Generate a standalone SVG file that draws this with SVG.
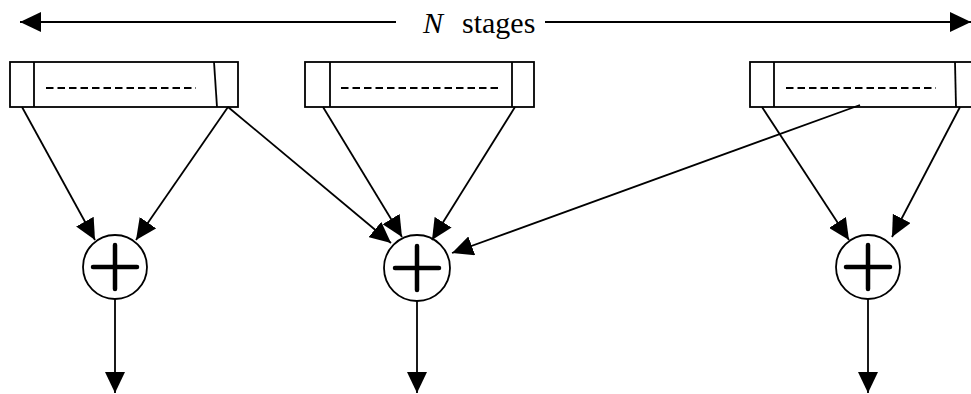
<svg xmlns="http://www.w3.org/2000/svg" width="971" height="394" viewBox="0 0 971 394">
<style>
.bx{fill:#fff;stroke:#000;stroke-width:1.8}
.ln{fill:none;stroke:#000;stroke-width:1.8}
.ds{fill:none;stroke:#000;stroke-width:2;stroke-dasharray:7.5 4}
.ar{fill:none;stroke:#000;stroke-width:1.8;marker-end:url(#ah)}
.pl{fill:none;stroke:#000;stroke-width:4.5;stroke-linecap:round}
text{font-family:"Liberation Serif","Times New Roman",serif;font-size:30px;fill:#000}
</style>
<defs>
<marker id="ah" markerUnits="userSpaceOnUse" markerWidth="21" markerHeight="20" refX="21" refY="10" orient="auto-start-reverse" viewBox="0 0 21 20">
<path d="M0,0 L21,10 L0,20 z" fill="#000"/>
</marker>
</defs>
<g id="title">
<line class="ln" x1="20" y1="22" x2="396" y2="22" style="marker-start:url(#ah)"/>
<line class="ar" x1="545" y1="22" x2="971" y2="22"/>
<text x="423" y="33"><tspan font-style="italic">N</tspan><tspan x="462">stages</tspan></text>
</g>
<g id="reg1">
<rect class="bx" x="10" y="62" width="228" height="45"/>
<line class="ln" x1="34" y1="62" x2="34" y2="107"/>
<line class="ln" x1="214" y1="62" x2="217" y2="107"/>
<line class="ds" x1="46" y1="88" x2="196" y2="88"/>
</g>
<g id="reg2">
<rect class="bx" x="305" y="62" width="229" height="45"/>
<line class="ln" x1="330" y1="62" x2="330" y2="107"/>
<line class="ln" x1="512" y1="62" x2="512" y2="107"/>
<line class="ds" x1="341" y1="88" x2="500" y2="88"/>
</g>
<g id="reg3">
<rect class="bx" x="750" y="62" width="230" height="45"/>
<line class="ln" x1="774" y1="62" x2="774" y2="107"/>
<line class="ln" x1="955" y1="62" x2="956" y2="107"/>
<line class="ds" x1="786" y1="88" x2="936" y2="88"/>
</g>
<g id="sum1">
<circle class="bx" cx="115" cy="267" r="32"/>
<line class="pl" x1="93" y1="267" x2="137" y2="267"/>
<line class="pl" x1="115" y1="245" x2="115" y2="289"/>
</g>
<g id="sum2">
<circle class="bx" cx="417" cy="268" r="33"/>
<line class="pl" x1="395" y1="268" x2="439" y2="268"/>
<line class="pl" x1="417" y1="246" x2="417" y2="290"/>
</g>
<g id="sum3">
<circle class="bx" cx="868" cy="267" r="32"/>
<line class="pl" x1="846" y1="267" x2="890" y2="267"/>
<line class="pl" x1="868" y1="245" x2="868" y2="289"/>
</g>
<g id="connectors">
<line class="ar" x1="22" y1="107" x2="95" y2="240"/>
<line class="ar" x1="228" y1="107" x2="136" y2="240"/>
<line class="ar" x1="228" y1="107" x2="391" y2="243"/>
<line class="ar" x1="323" y1="107" x2="402" y2="237"/>
<line class="ar" x1="515" y1="107" x2="432" y2="240"/>
<line class="ar" x1="860" y1="105" x2="452" y2="253"/>
<line class="ar" x1="762" y1="107" x2="849" y2="240"/>
<line class="ar" x1="960" y1="107" x2="892" y2="237"/>
<line class="ar" x1="115" y1="299" x2="115" y2="393"/>
<line class="ar" x1="417" y1="301" x2="417" y2="393"/>
<line class="ar" x1="868" y1="299" x2="868" y2="393"/>
</g>
</svg>
